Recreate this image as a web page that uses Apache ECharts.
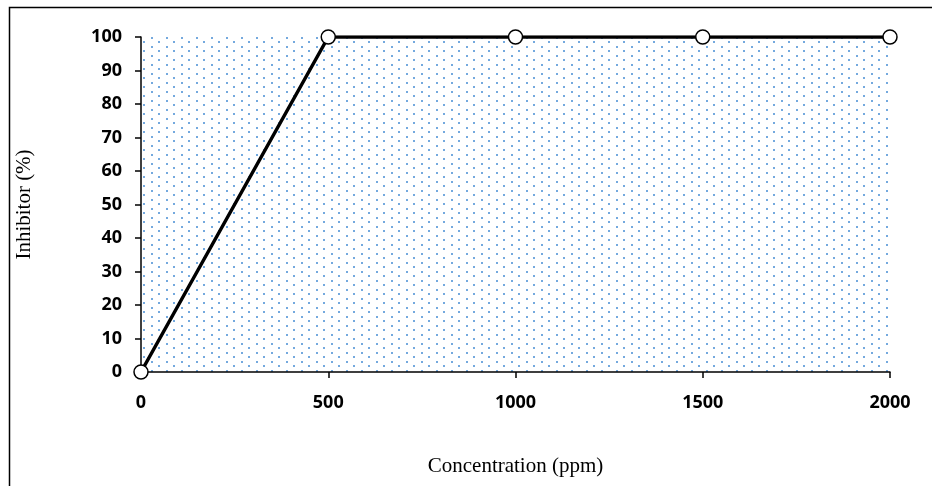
<!DOCTYPE html>
<html lang="en">
<head>
    <meta charset="UTF-8">
    <title>Inhibitor</title>
    <script src="https://cdn.jsdelivr.net/npm/echarts@6/dist/echarts.min.js"></script>
</head>
<body style="margin:0;background:#fff;">

<div id="main" style="width: 932px;height:486px;"></div>

<script type="text/javascript">
    // data
    var concentration = [0, 500, 1000, 1500, 2000];
    var inhibitor = [0, 100, 100, 100, 100];
    var xTicks = [0, 500, 1000, 1500, 2000];
    var yTicks = [0, 10, 20, 30, 40, 50, 60, 70, 80, 90, 100];

    // dotted fill of the plot area
    var tile = document.createElement('canvas');
    tile.width = 15;
    tile.height = 9;
    var ctx = tile.getContext('2d');
    ctx.fillStyle = '#74a9de';
    ctx.fillRect(1, 1, 2, 2);
    ctx.fillRect(8, 5, 2, 2);

    var points = concentration.map(function (c, i) {
        return [c, inhibitor[i]];
    });

    var tickFont = {
        color: '#000',
        fontFamily: 'Noto Sans',
        fontWeight: 'bold',
        fontSize: 18,
        formatter: function (v) { return String(v); }
    };

    var myChart = echarts.init(document.getElementById('main'));

    var option = {
        animation: false,
        grid: {
            left: 141,
            right: 42,
            top: 37,
            bottom: 114,
            show: true,
            borderWidth: 0,
            backgroundColor: {image: tile, repeat: 'repeat'}
        },
        graphic: [{
            type: 'rect',
            shape: {x: 9.5, y: 7.5, width: 1000, height: 1000},
            style: {fill: 'none', stroke: '#000', lineWidth: 1.5},
            silent: true
        }],
        xAxis: {
            type: 'value',
            min: xTicks[0],
            max: xTicks[xTicks.length - 1],
            interval: 500,
            name: 'Concentration (ppm)',
            nameLocation: 'middle',
            nameGap: 84,
            nameTextStyle: {fontFamily: 'Liberation Serif', fontSize: 21, color: '#000'},
            axisLine: {lineStyle: {color: '#000', width: 1.5}},
            axisTick: {show: true, length: 6, lineStyle: {color: '#000', width: 1.5}},
            axisLabel: Object.assign({margin: 22}, tickFont),
            splitLine: {show: false}
        },
        yAxis: {
            type: 'value',
            min: yTicks[0],
            max: yTicks[yTicks.length - 1],
            interval: 10,
            name: 'Inhibitor (%)',
            nameLocation: 'middle',
            nameGap: 106,
            nameTextStyle: {fontFamily: 'Liberation Serif', fontSize: 21, color: '#000'},
            axisLine: {show: true, lineStyle: {color: '#000', width: 1.5}},
            axisTick: {show: true, length: 6, lineStyle: {color: '#000', width: 1.5}},
            axisLabel: Object.assign({margin: 19}, tickFont),
            splitLine: {show: false}
        },
        series: [{
            type: 'line',
            data: points,
            symbol: 'circle',
            symbolSize: 14,
            lineStyle: {color: '#000', width: 3.5},
            itemStyle: {color: '#fff', borderColor: '#000', borderWidth: 1.5},
            z: 5
        }]
    };

    myChart.setOption(option);
</script>
</body>
</html>
